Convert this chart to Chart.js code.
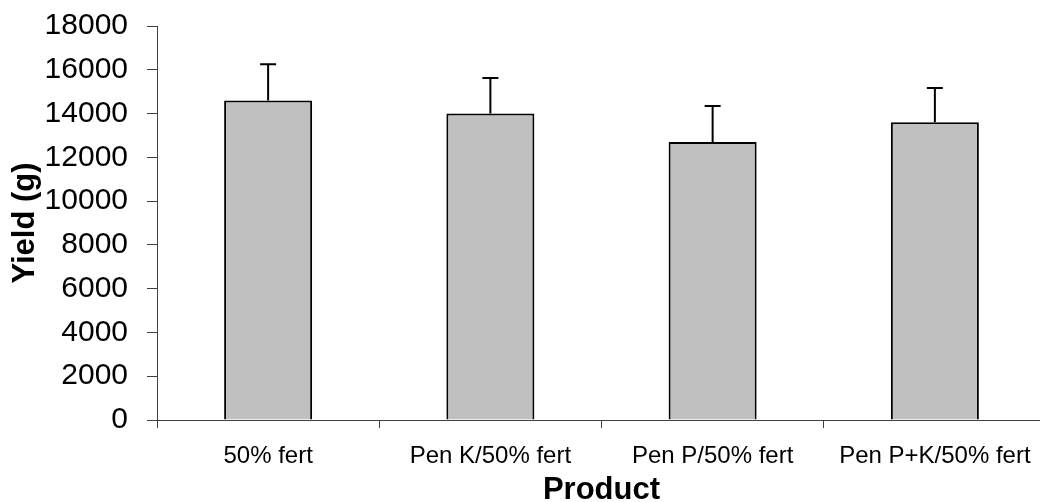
<!DOCTYPE html>
<html>
<head>
<meta charset="utf-8">
<script src="https://cdn.jsdelivr.net/npm/chart.js@4"></script>
<style>
  html, body { margin: 0; padding: 0; background: #fff; overflow: hidden; }
  #wrap { width: 1040px; height: 502px; overflow: hidden; }
</style>
</head>
<body>
<div id="wrap"><canvas id="yieldChart" width="1050" height="502"></canvas></div>
<script>
const products = ['50% fert', 'Pen K/50% fert', 'Pen P/50% fert', 'Pen P+K/50% fert'];
const yieldMeans = [14600, 14000, 12700, 13600];
const yieldErrors = [1650, 1620, 1650, 1570];
const yTicks = [0, 2000, 4000, 6000, 8000, 10000, 12000, 14000, 16000, 18000];

const axisColor = '#404040';

// upward-only error bars with a cap
const errorBars = {
    id: 'errorBars',
    afterDatasetsDraw(chart) {
        const ctx = chart.ctx;
        const yScale = chart.scales.y;
        const meta = chart.getDatasetMeta(0);
        ctx.save();
        ctx.strokeStyle = '#000';
        ctx.lineWidth = 2;
        meta.data.forEach(function (bar, i) {
            const top = yScale.getPixelForValue(yieldMeans[i] + yieldErrors[i]);
            ctx.beginPath();
            ctx.moveTo(bar.x, bar.y);
            ctx.lineTo(bar.x, top);
            ctx.moveTo(bar.x - 8, top);
            ctx.lineTo(bar.x + 8, top);
            ctx.stroke();
        });
        ctx.restore();
    }
};

new Chart(document.getElementById('yieldChart'), {
    type: 'bar',
    data: {
        labels: products,
        datasets: [{
            data: yieldMeans,
            backgroundColor: '#C0C0C0',
            borderColor: '#000',
            borderWidth: 2,
            categoryPercentage: 1,
            barPercentage: 0.396
        }]
    },
    options: {
        responsive: false,
        animation: false,
        devicePixelRatio: 1,
        layout: { padding: { top: 26, right: 4, bottom: 0, left: 0 } },
        plugins: {
            legend: { display: false },
            tooltip: { enabled: false }
        },
        scales: {
            x: {
                grid: { drawOnChartArea: false, drawTicks: true, tickLength: 8, color: axisColor, offset: true },
                border: { color: axisColor, width: 1 },
                ticks: {
                    color: '#000',
                    padding: 14,
                    maxRotation: 0,
                    autoSkip: false,
                    font: { family: 'Liberation Sans, Arial, sans-serif', size: 24 }
                },
                title: {
                    display: true,
                    text: 'Product',
                    color: '#000',
                    padding: { top: 0, bottom: -4 },
                    font: { family: 'Liberation Sans, Arial, sans-serif', size: 31, weight: 'bold', lineHeight: 1 }
                },
                afterFit(scale) {
                    scale.height = 82;
                    scale.paddingLeft = 0;
                    scale.paddingRight = 0;
                }
            },
            y: {
                min: 0,
                max: 18000,
                grid: { drawOnChartArea: false, drawTicks: true, tickLength: 10, color: axisColor },
                border: { color: axisColor, width: 1 },
                afterBuildTicks(scale) { scale.ticks = yTicks.map(function (v) { return { value: v }; }); },
                ticks: {
                    color: '#000',
                    padding: 19,
                    font: { family: 'Liberation Sans, Arial, sans-serif', size: 30 },
                    callback: function (v) { return String(v); }
                },
                title: {
                    display: true,
                    text: 'Yield (g)',
                    color: '#000',
                    padding: { top: 10, bottom: 0 },
                    font: { family: 'Liberation Sans, Arial, sans-serif', size: 31, weight: 'bold', lineHeight: 1 }
                },
                afterFit(scale) {
                    scale.width = 157;
                    scale.paddingTop = 0;
                    scale.paddingBottom = 0;
                }
            }
        }
    },
    plugins: [errorBars]
});
</script>
</body>
</html>
